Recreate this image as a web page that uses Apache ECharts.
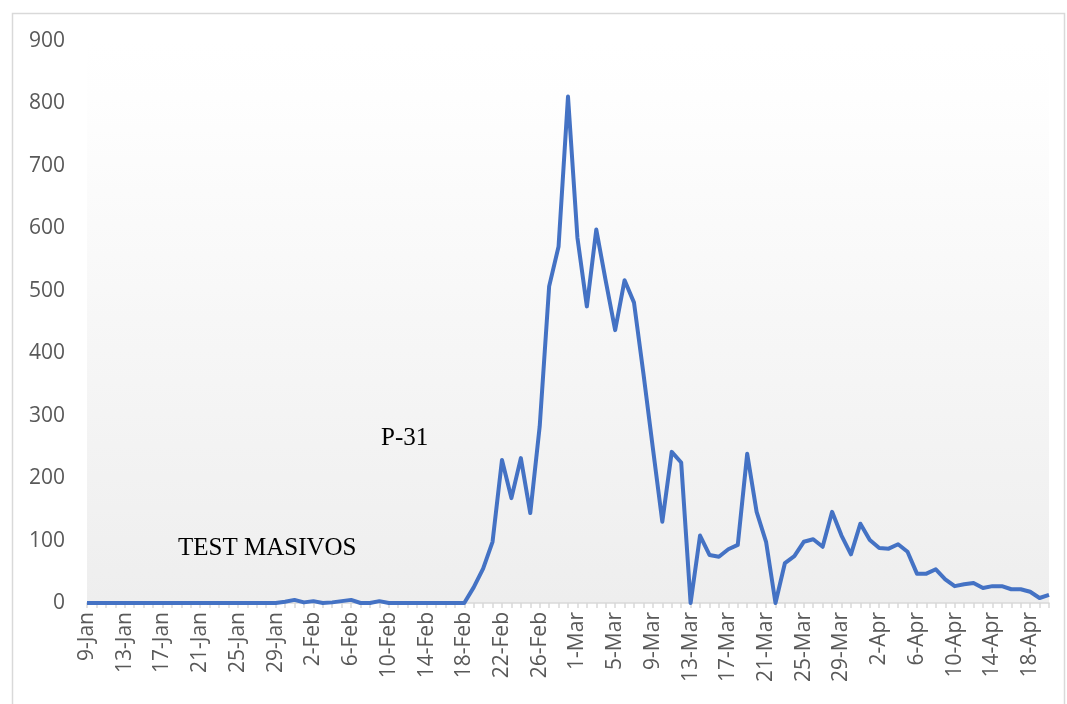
<!DOCTYPE html>
<html lang="es">
  <head>
    <meta charset="utf-8" />
    <title>Casos diarios</title>
    <script src="https://cdn.jsdelivr.net/npm/echarts@6/dist/echarts.min.js"></script>
    <style>
      * {
        margin: 0;
        padding: 0;
      }
      html,
      body,
      #chart {
        width: 100%;
        height: 100%;
        overflow: hidden;
        background: #ffffff;
      }
    </style>
  </head>
  <body>
    <div id="chart"></div>
    <script>
      // days shown on the category axis
      var dates = [
        "9-Jan", "10-Jan", "11-Jan", "12-Jan", "13-Jan", "14-Jan", "15-Jan", "16-Jan", "17-Jan", "18-Jan",
        "19-Jan", "20-Jan", "21-Jan", "22-Jan", "23-Jan", "24-Jan", "25-Jan", "26-Jan", "27-Jan", "28-Jan",
        "29-Jan", "30-Jan", "31-Jan",
        "1-Feb", "2-Feb", "3-Feb", "4-Feb", "5-Feb", "6-Feb", "7-Feb", "8-Feb", "9-Feb", "10-Feb",
        "11-Feb", "12-Feb", "13-Feb", "14-Feb", "15-Feb", "16-Feb", "17-Feb", "18-Feb", "19-Feb", "20-Feb",
        "21-Feb", "22-Feb", "23-Feb", "24-Feb", "25-Feb", "26-Feb", "27-Feb", "28-Feb", "29-Feb",
        "1-Mar", "2-Mar", "3-Mar", "4-Mar", "5-Mar", "6-Mar", "7-Mar", "8-Mar", "9-Mar", "10-Mar",
        "11-Mar", "12-Mar", "13-Mar", "14-Mar", "15-Mar", "16-Mar", "17-Mar", "18-Mar", "19-Mar", "20-Mar",
        "21-Mar", "22-Mar", "23-Mar", "24-Mar", "25-Mar", "26-Mar", "27-Mar", "28-Mar", "29-Mar", "30-Mar", "31-Mar",
        "1-Apr", "2-Apr", "3-Apr", "4-Apr", "5-Apr", "6-Apr", "7-Apr", "8-Apr", "9-Apr", "10-Apr",
        "11-Apr", "12-Apr", "13-Apr", "14-Apr", "15-Apr", "16-Apr", "17-Apr", "18-Apr", "19-Apr", "20-Apr"
      ];

      // daily values
      var cases = [
        0, 0, 0, 0, 0, 0, 0, 0, 0, 0,
        0, 0, 0, 0, 0, 0, 0, 0, 0, 0,
        0, 2, 5,
        1, 3, 0, 1, 3, 5, 0, 0, 3, 0,
        0, 0, 0, 0, 0, 0, 0, 0, 25, 55,
        98, 229, 168, 232, 144, 283, 507, 571, 811,
        585, 475, 598, 516, 437, 517, 481, 367, 248, 130,
        242, 225, 0, 108, 77, 74, 86, 93, 239, 146,
        98, 0, 64, 75, 98, 102, 90, 146, 108, 78, 127,
        101, 88, 87, 94, 82, 47, 47, 54, 38, 27,
        30, 32, 24, 27, 27, 22, 22, 18, 8, 13
      ];

      var notes = ["TEST MASIVOS", "P-31"];

      var chart = echarts.init(document.getElementById("chart"));

      chart.setOption({
        animation: false,
        grid: {
          left: 87,
          right: 18,
          top: 41,
          bottom: 101,
          show: true,
          borderWidth: 0,
          backgroundColor: new echarts.graphic.LinearGradient(0, 0, 0, 1, [
            { offset: 0, color: "#ffffff" },
            { offset: 0.1, color: "#fefefe" },
            { offset: 1, color: "#eeeeee" }
          ])
        },
        xAxis: {
          type: "category",
          data: dates,
          boundaryGap: false,
          axisLine: { lineStyle: { color: "#d9d9d9", width: 1.5 } },
          axisTick: {
            show: true,
            interval: 0,
            length: 5,
            lineStyle: { color: "#d9d9d9", width: 1.5 }
          },
          axisLabel: {
            interval: 3,
            rotate: 90,
            margin: 9,
            color: "#595959",
            fontFamily: "Open Sans",
            fontSize: 21
          }
        },
        yAxis: {
          type: "value",
          min: 0,
          max: 900,
          interval: 100,
          splitLine: { show: false },
          axisLine: { show: false },
          axisTick: { show: false },
          axisLabel: {
            margin: 22,
            color: "#595959",
            fontFamily: "Open Sans",
            fontSize: 21
          }
        },
        series: [
          {
            type: "line",
            data: cases,
            showSymbol: false,
            symbol: "none",
            lineStyle: { color: "#4472c4", width: 4, join: "round" }
          }
        ],
        graphic: [
          {
            type: "rect",
            left: 10,
            top: 11,
            shape: { width: 1052, height: 720 },
            style: { fill: "none", stroke: "#d9d9d9", lineWidth: 1.5 },
            z: -10
          },
          {
            type: "text",
            left: 178,
            top: 536,
            style: {
              text: notes[0],
              font: "25px 'Liberation Serif'",
              fill: "#000000"
            },
            z: 10
          },
          {
            type: "text",
            left: 381,
            top: 426,
            style: {
              text: notes[1],
              font: "25px 'Liberation Serif'",
              fill: "#000000"
            },
            z: 10
          }
        ]
      });
    </script>
  </body>
</html>
